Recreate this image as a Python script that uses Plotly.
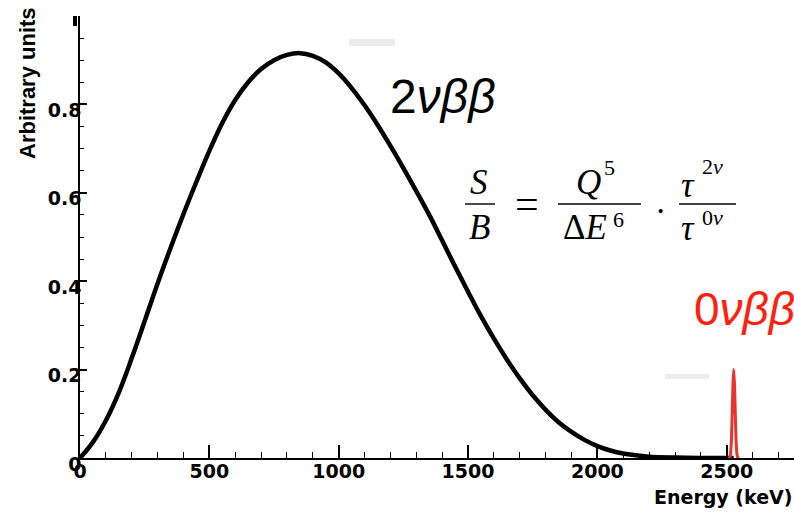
import plotly.graph_objects as go

# Summed electron energy spectrum of 2-neutrino double beta decay (arbitrary units)
energy_kev = [0, 50, 100, 150, 200, 250, 300, 350, 400, 450, 500, 550, 600, 650,
              700, 750, 800, 850, 900, 950, 1000, 1050, 1100, 1150, 1200, 1250,
              1300, 1350, 1400, 1450, 1500, 1550, 1600, 1650, 1700, 1750, 1800,
              1850, 1900, 1950, 2000, 2050, 2100, 2150, 2200, 2300, 2400, 2527]
two_nu_rate = [0.0, 0.036, 0.085, 0.148, 0.226, 0.31, 0.395, 0.475, 0.552, 0.625,
               0.695, 0.758, 0.81, 0.85, 0.88, 0.90, 0.912, 0.916, 0.910, 0.895,
               0.870, 0.837, 0.798, 0.754, 0.706, 0.656, 0.604, 0.550, 0.492,
               0.433, 0.376, 0.321, 0.270, 0.223, 0.180, 0.142, 0.109, 0.081,
               0.059, 0.041, 0.027, 0.017, 0.010, 0.006, 0.003, 0.001, 0.0002, 0.0]

# Neutrinoless line at the Q-value
peak_energy_kev = [2508, 2514, 2518, 2521, 2524, 2527, 2530, 2533, 2536, 2540, 2546]
zero_nu_rate = [-0.004, 0.006, 0.04, 0.10, 0.165, 0.20, 0.165, 0.10, 0.04, 0.006, -0.004]

x_tick_vals = [0, 500, 1000, 1500, 2000, 2500]
y_tick_vals = [0, 0.2, 0.4, 0.6, 0.8]
y_tick_text = ["0", "0.2", "0.4", "0.6", "0.8"]

W, H = 794, 512
ML, MR, MT, MB = 80, 0, 16, 54
PW, PH = W - ML - MR, H - MT - MB


def pp(x, y):
    """Pixel position -> paper coordinates."""
    return (x - ML) / PW, (H - MB - y) / PH


fig = go.Figure()
fig.add_trace(go.Scatter(x=energy_kev, y=two_nu_rate, mode="lines",
                         line=dict(color="black", width=4.5, shape="spline", smoothing=1.0),
                         cliponaxis=False, showlegend=False, hoverinfo="skip"))
fig.add_trace(go.Scatter(x=peak_energy_kev, y=zero_nu_rate, mode="lines",
                         line=dict(color="#e8342a", width=3, shape="spline", smoothing=0.5),
                         cliponaxis=False, showlegend=False, hoverinfo="skip"))

tick_font = dict(family="DejaVu Sans", size=19, color="black", weight="bold")

fig.update_xaxes(range=[0, PW / 0.2587], showline=True, linecolor="black", linewidth=1.6,
                 ticks="inside", ticklen=13, tickwidth=1.5, tickcolor="black",
                 tickmode="array", tickvals=x_tick_vals, tickfont=tick_font,
                 ticklabelstandoff=-5,
                 minor=dict(ticks="inside", ticklen=6, tickwidth=1.3, tickcolor="black",
                            dtick=100, tick0=0, showgrid=False),
                 showgrid=False, zeroline=False)
fig.update_yaxes(range=[0, 1.0], showline=True, linecolor="black", linewidth=1.6,
                 ticks="inside", ticklen=7, tickwidth=1.5, tickcolor="black",
                 tickmode="array", tickvals=y_tick_vals, ticktext=y_tick_text,
                 tickfont=tick_font, ticklabelstandoff=-7, ticklabelshift=6,
                 minor=dict(ticks="inside", ticklen=4, tickwidth=1.3, tickcolor="black",
                            dtick=0.05, tick0=0, showgrid=False),
                 showgrid=False, zeroline=False)

annotations = []


def add_text(text, x, y, size, family="Liberation Sans", color="black", weight="normal",
             xanchor="center", yanchor="middle", angle=0):
    px_, py_ = pp(x, y)
    annotations.append(dict(text=text, x=px_, y=py_, xref="paper", yref="paper",
                            showarrow=False, xanchor=xanchor, yanchor=yanchor,
                            textangle=angle,
                            font=dict(family=family, size=size, color=color, weight=weight)))


# Axis titles
add_text("Arbitrary units", 27, 83, 22, weight="bold", angle=-90)
add_text("Energy (keV)", 794, 497, 19, family="DejaVu Sans", weight="bold", xanchor="right")

# Spectrum labels
add_text("2<i>νββ</i>", 388, 96, 48, xanchor="left")
add_text("0<i>νββ</i>", 692, 309, 46, color="#ff2010", xanchor="left")

# S/B figure of merit
serif = "Liberation Serif"
add_text("<i>S</i>", 479, 182, 35, family=serif)
add_text("<i>B</i>", 479, 228, 35, family=serif)
add_text("=", 527, 204, 42, family=serif)
add_text("<i>Q</i>", 588, 182, 35, family=serif)
add_text("5", 609, 167, 22, family=serif)
add_text("Δ<i>E</i>", 585, 228, 35, family=serif)
add_text("6", 618, 219, 22, family=serif)
add_text("·", 660, 210, 34, family=serif)
add_text("<i>τ</i>", 688, 186, 35, family=serif)
add_text("2<i>ν</i>", 712, 166, 22, family=serif)
add_text("<i>τ</i>", 688, 229, 35, family=serif)
add_text("0<i>ν</i>", 712, 217, 22, family=serif)

shapes = []
for x0, x1 in [(465, 495), (558, 641), (679, 736)]:
    a = pp(x0, 204)
    b = pp(x1, 204)
    shapes.append(dict(type="line", xref="paper", yref="paper", x0=a[0], x1=b[0],
                       y0=a[1], y1=b[1], line=dict(color="black", width=1.4)))

# Faint grey patches
for x0, y0, x1, y1 in [(349, 39, 395, 46), (665, 374, 709, 379)]:
    a = pp(x0, y0)
    b = pp(x1, y1)
    shapes.append(dict(type="rect", xref="paper", yref="paper", x0=a[0], x1=b[0],
                       y0=a[1], y1=b[1], fillcolor="#ececec", line=dict(width=0),
                       layer="below"))

# Remnant of the top tick label
a = pp(75, 16)
b = pp(75, 26)
shapes.append(dict(type="line", xref="paper", yref="paper", x0=a[0], x1=b[0],
                   y0=a[1], y1=b[1], line=dict(color="black", width=4)))

fig.update_layout(width=W, height=H, margin=dict(l=ML, r=MR, t=MT, b=MB, pad=0),
                  paper_bgcolor="white", plot_bgcolor="white",
                  annotations=annotations, shapes=shapes, showlegend=False)

fig.write_html("out.html")
